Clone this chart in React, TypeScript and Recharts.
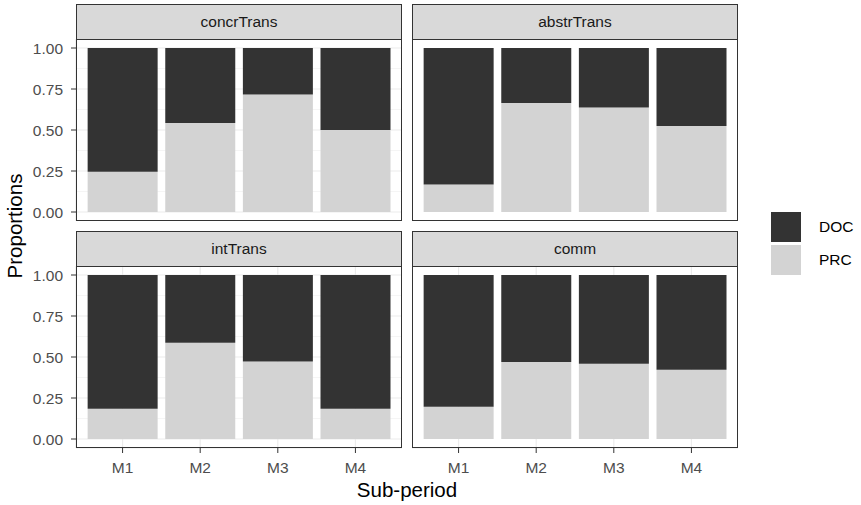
import React from 'react';
import { BarChart, Bar, XAxis, YAxis, CartesianGrid } from 'recharts';

// Sub-periods on the x axis
const periods = ['M1', 'M2', 'M3', 'M4'];

// Proportions per facet (PRC stacked below DOC)
const concrTransPRC = [0.245, 0.542, 0.716, 0.5];
const concrTransDOC = [0.755, 0.458, 0.284, 0.5];

const abstrTransPRC = [0.168, 0.665, 0.637, 0.525];
const abstrTransDOC = [0.832, 0.335, 0.363, 0.475];

const intTransPRC = [0.184, 0.587, 0.472, 0.184];
const intTransDOC = [0.816, 0.413, 0.528, 0.816];

const commPRC = [0.197, 0.47, 0.459, 0.423];
const commDOC = [0.803, 0.53, 0.541, 0.577];

const yTicks = [0, 0.25, 0.5, 0.75, 1];
const yMinorTicks = [0.125, 0.375, 0.625, 0.875];

const FONT = '"Liberation Sans", Arial, sans-serif';
const DOC_COLOR = '#333333';
const PRC_COLOR = '#D3D3D3';

// Layout
const PANEL_W = 326;
const PLOT_H = 182;
const STRIP_H = 35;
const Y_AXIS_W = 76;
const X_AXIS_H = 40;
const COL_X = [76, 412];
const ROW_Y = [39, 266];
const UNIT = PANEL_W / 4.2;
const X_PAD = 0.1 * UNIT;

const buildRows = (prc: number[], doc: number[]) =>
  periods.map((p, i) => ({ period: p, PRC: prc[i], DOC: doc[i] }));

type PanelProps = {
  title: string;
  rows: { period: string; PRC: number; DOC: number }[];
  col: number;
  row: number;
};

function Panel({ title, rows, col, row }: PanelProps) {
  const showY = col === 0;
  const showX = row === 1;
  const px = COL_X[col];
  const py = ROW_Y[row];
  const chartLeft = showY ? px - Y_AXIS_W : px;
  const chartW = PANEL_W + (showY ? Y_AXIS_W : 0);
  const chartH = PLOT_H + (showX ? X_AXIS_H : 0);

  return (
    <>
      <div style={{ position: 'absolute', left: chartLeft, top: py }}>
        <BarChart
          width={chartW}
          height={chartH}
          data={rows}
          margin={{ top: 0, right: 0, bottom: 0, left: 0 }}
          barCategoryGap="5%"
        >
          <CartesianGrid
            horizontal
            vertical={false}
            horizontalValues={yMinorTicks}
            stroke="#F0F0F0"
            strokeWidth={0.7}
          />
          <CartesianGrid stroke="#EBEBEB" strokeWidth={1.2} />
          <XAxis
            dataKey="period"
            type="category"
            padding={{ left: X_PAD, right: X_PAD }}
            height={showX ? X_AXIS_H : 0}
            axisLine={false}
            tickLine={showX ? { stroke: '#333333', strokeWidth: 1 } : false}
            tick={showX ? { fill: '#4D4D4D', fontSize: 15.5, fontFamily: FONT } : false}
            tickSize={5}
            tickMargin={9}
            interval={0}
          />
          <YAxis
            type="number"
            domain={[0, 1]}
            ticks={yTicks}
            padding={{ top: 9, bottom: 9 }}
            width={showY ? Y_AXIS_W : 0}
            axisLine={false}
            tickLine={showY ? { stroke: '#333333', strokeWidth: 1 } : false}
            tick={showY ? { fill: '#4D4D4D', fontSize: 15.5, fontFamily: FONT } : false}
            tickSize={5}
            tickMargin={8}
            tickFormatter={(v: number) => v.toFixed(2)}
            interval={0}
          />
          <Bar dataKey="PRC" stackId="s" fill={PRC_COLOR} isAnimationActive={false} />
          <Bar dataKey="DOC" stackId="s" fill={DOC_COLOR} isAnimationActive={false} />
        </BarChart>
      </div>
      {/* facet strip */}
      <div
        style={{
          position: 'absolute',
          left: px,
          top: py - STRIP_H,
          width: PANEL_W,
          height: STRIP_H + 1,
          boxSizing: 'border-box',
          border: '1px solid #333333',
          background: '#D9D9D9',
          color: '#1A1A1A',
          fontFamily: FONT,
          fontSize: 15.5,
          display: 'flex',
          alignItems: 'center',
          justifyContent: 'center',
        }}
      >
        {title}
      </div>
      {/* panel border */}
      <div
        style={{
          position: 'absolute',
          left: px,
          top: py,
          width: PANEL_W,
          height: PLOT_H,
          boxSizing: 'border-box',
          border: '1px solid #333333',
          pointerEvents: 'none',
        }}
      />
    </>
  );
}

const legendItems = [
  { label: 'DOC', color: DOC_COLOR },
  { label: 'PRC', color: PRC_COLOR },
];

export default function App() {
  return (
    <div
      style={{
        position: 'absolute',
        left: 0,
        top: 0,
        width: 861,
        height: 505,
        background: '#FFFFFF',
        fontFamily: FONT,
        overflow: 'hidden',
      }}
    >
      <Panel title="concrTrans" rows={buildRows(concrTransPRC, concrTransDOC)} col={0} row={0} />
      <Panel title="abstrTrans" rows={buildRows(abstrTransPRC, abstrTransDOC)} col={1} row={0} />
      <Panel title="intTrans" rows={buildRows(intTransPRC, intTransDOC)} col={0} row={1} />
      <Panel title="comm" rows={buildRows(commPRC, commDOC)} col={1} row={1} />

      {/* y axis title */}
      <div
        style={{
          position: 'absolute',
          left: 15,
          top: 226,
          transform: 'translate(-50%, -50%) rotate(-90deg)',
          whiteSpace: 'nowrap',
          fontSize: 20.5,
          color: '#000000',
        }}
      >
        Proportions
      </div>

      {/* x axis title */}
      <div
        style={{
          position: 'absolute',
          left: 407,
          top: 490,
          transform: 'translate(-50%, -50%)',
          whiteSpace: 'nowrap',
          fontSize: 20.5,
          color: '#000000',
        }}
      >
        Sub-period
      </div>

      {/* legend */}
      {legendItems.map((item, i) => (
        <React.Fragment key={item.label}>
          <div
            style={{
              position: 'absolute',
              left: 771,
              top: 212 + i * 33,
              width: 30,
              height: 30,
              background: item.color,
            }}
          />
          <div
            style={{
              position: 'absolute',
              left: 819,
              top: 227 + i * 33,
              transform: 'translateY(-50%)',
              fontSize: 15.5,
              color: '#000000',
              whiteSpace: 'nowrap',
            }}
          >
            {item.label}
          </div>
        </React.Fragment>
      ))}
    </div>
  );
}
